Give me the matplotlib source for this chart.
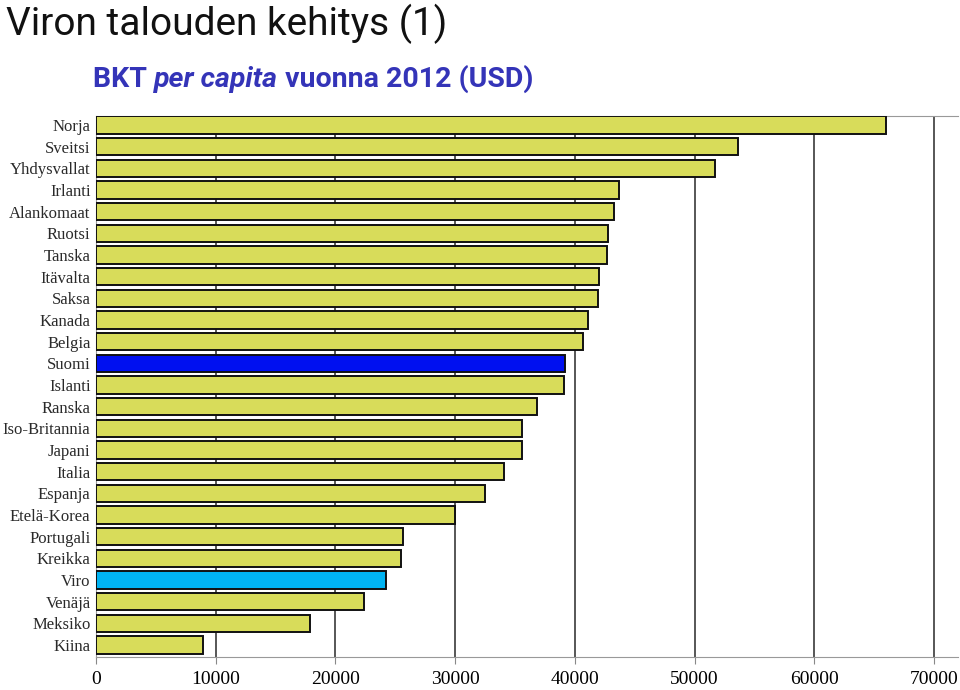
import matplotlib
matplotlib.use("Agg")
from matplotlib import pyplot as plt

# BKT per capita 2012 (USD)
countries = ["Norja", "Sveitsi", "Yhdysvallat", "Irlanti", "Alankomaat", "Ruotsi",
             "Tanska", "Itävalta", "Saksa", "Kanada", "Belgia", "Suomi", "Islanti",
             "Ranska", "Iso-Britannia", "Japani", "Italia", "Espanja", "Etelä-Korea",
             "Portugali", "Kreikka", "Viro", "Venäjä", "Meksiko", "Kiina"]
gdp = [66000, 53600, 51700, 43650, 43250, 42750, 42650, 42050, 41900, 41050,
       40700, 39150, 39050, 36850, 35550, 35550, 34100, 32450, 29950, 25650,
       25500, 24250, 22400, 17900, 8950]
highlight = {"Suomi": "#0010f0", "Viro": "#00b4f4"}
xticks = [0, 10000, 20000, 30000, 40000, 50000, 60000, 70000]

fig = plt.figure(figsize=(9.6, 6.9), dpi=100)
ax = fig.add_axes([0.1, 0.048, 0.898, 0.784])

colors = [highlight.get(c, "#d8dc5a") for c in countries]
ypos = list(range(len(countries)))
ax.barh(ypos, gdp, height=0.8, color=colors, edgecolor="#111111",
        linewidth=1.4, zorder=3)

ax.set_xlim(0, 72000)
ax.set_ylim(len(countries) - 0.45, -0.42)
ax.set_xticks(xticks)
ax.set_xticklabels([str(t) for t in xticks], family="Liberation Serif", fontsize=14)
ax.set_yticks(ypos)
ax.set_yticklabels(countries, family="Liberation Serif", fontsize=12, color="#2a2a2a")
ax.tick_params(axis="y", length=0, pad=4)
ax.tick_params(axis="x", length=5, color="#888888", pad=5)
ax.xaxis.grid(True, color="#3a3a3a", linewidth=1.2, zorder=0)
ax.set_axisbelow(True)
ax.spines["right"].set_visible(False)
ax.spines["top"].set_color("#999999")
ax.spines["bottom"].set_color("#999999")
ax.spines["left"].set_color("#999999")

fig.text(0.006, 0.995, "Viron talouden kehitys (1)", ha="left", va="top",
         family="Roboto", fontsize=28, color="#111111")

sub_color = "#3434b8"
t1 = fig.text(0.097, 0.874, "BKT ", ha="left", va="baseline", family="Roboto",
              fontsize=20.5, weight="bold", color=sub_color)
t2 = ax.annotate("per capita", xy=(1, 0), xycoords=t1, va="bottom", ha="left",
                 family="Roboto", fontsize=20.5, weight="bold", style="italic",
                 color=sub_color, annotation_clip=False)
t3 = ax.annotate(" vuonna 2012 (USD)", xy=(1, 0), xycoords=t2, va="bottom", ha="left",
                 family="Roboto", fontsize=20.5, weight="bold", color=sub_color,
                 annotation_clip=False)

fig.savefig("out.png", dpi=100)
